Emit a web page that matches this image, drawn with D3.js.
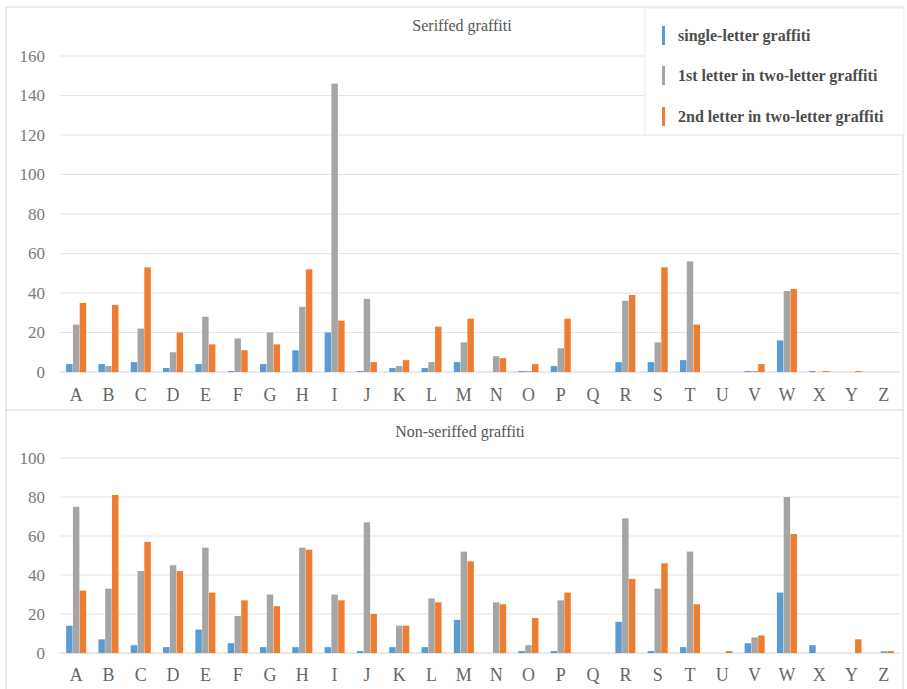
<!DOCTYPE html>
<html>
<head>
<meta charset="utf-8">
<script src="https://cdn.jsdelivr.net/npm/d3@7"></script>
<style>
  body { margin: 0; background: #fff; }
  svg { display: block; }
  text { font-family: "Liberation Serif", "Times New Roman", serif; }
</style>
</head>
<body>
<svg id="chart" width="907" height="689"></svg>
<script>
var letters = ['A','B','C','D','E','F','G','H','I','J','K','L','M','N','O','P','Q','R','S','T','U','V','W','X','Y','Z'];
var seriesNames = ['single-letter graffiti', '1st letter in two-letter graffiti', '2nd letter in two-letter graffiti'];
var colors = ['#5b9bd5', '#a5a5a5', '#ed7d31'];

// seriffed graffiti
var serifSingle = [4, 4, 5, 2, 4, 0.5, 4, 11, 20, 0.5, 2, 2, 5, 0, 0.5, 3, 0, 5, 5, 6, 0, 0.5, 16, 0.5, 0, 0];
var serifFirst  = [24, 3, 22, 10, 28, 17, 20, 33, 146, 37, 3, 5, 15, 8, 0.5, 12, 0, 36, 15, 56, 0, 0.5, 41, 0, 0, 0];
var serifSecond = [35, 34, 53, 20, 14, 11, 14, 52, 26, 5, 6, 23, 27, 7, 4, 27, 0, 39, 53, 24, 0, 4, 42, 0.5, 0.5, 0];
var serifTicks = [0, 20, 40, 60, 80, 100, 120, 140, 160];

// non-seriffed graffiti
var nonSingle = [14, 7, 4, 3, 12, 5, 3, 3, 3, 1, 3, 3, 17, 0, 1, 1, 0, 16, 1, 3, 0, 5, 31, 4, 0, 0];
var nonFirst  = [75, 33, 42, 45, 54, 19, 30, 54, 30, 67, 14, 28, 52, 26, 4, 27, 0, 69, 33, 52, 0, 8, 80, 0, 0, 1];
var nonSecond = [32, 81, 57, 42, 31, 27, 24, 53, 27, 20, 14, 26, 47, 25, 18, 31, 0, 38, 46, 25, 1, 9, 61, 0, 7, 1];
var nonTicks = [0, 20, 40, 60, 80, 100];

var svg = d3.select('#chart');

function drawPanel(opts) {
	var g = svg.append('g');

	g.append('rect')
	.attr('x', opts.frame[0]).attr('y', opts.frame[1])
	.attr('width', opts.frame[2]).attr('height', opts.frame[3])
	.attr('fill', '#fff')
	.attr('stroke', '#d9d9d9');

	var x0 = d3.scaleBand().domain(letters).range([60, 900]).paddingInner(0.38).paddingOuter(0.19);
	var x1 = d3.scaleBand().domain([0, 1, 2]).range([0, x0.bandwidth()]).paddingInner(0.05);
	var y = d3.scaleLinear().domain(opts.domain).range(opts.yRange);

	g.selectAll('.grid')
	.data(opts.ticks)
	.enter().append('line')
	.attr('class', 'grid')
	.attr('x1', 60).attr('x2', 900)
	.attr('y1', function(d) { return y(d); })
	.attr('y2', function(d) { return y(d); })
	.style('stroke', function(d) { return d === 0 ? '#d0d0d0' : '#e4e4e4'; });

	var yAxis = d3.axisLeft(y).tickValues(opts.ticks).tickSize(0).tickPadding(0);
	var ya = g.append('g').attr('transform', 'translate(45,0)').call(yAxis);
	ya.select('.domain').remove();
	ya.selectAll('text')
	.style('font-size', '17px')
	.style('fill', '#7a7a7a')
	.style('font-family', '"Liberation Serif", serif');

	var rows = letters.map(function(l, i) {
		return {letter: l, values: [opts.series[0][i], opts.series[1][i], opts.series[2][i]]};
	});

	var groups = g.selectAll('.group')
	.data(rows)
	.enter().append('g')
	.attr('class', 'group')
	.attr('transform', function(d) { return 'translate(' + x0(d.letter) + ',0)'; });

	groups.selectAll('rect')
	.data(function(d) { return d.values.map(function(v, k) { return {k: k, v: v}; }); })
	.enter().append('rect')
	.attr('x', function(d) { return x1(d.k); })
	.attr('width', x1.bandwidth())
	.attr('y', function(d) { return y(d.v); })
	.attr('height', function(d) { return y(0) - y(d.v); })
	.attr('fill', function(d) { return colors[d.k]; });

	var xAxis = d3.axisBottom(x0).tickSize(0).tickPadding(0);
	var xa = g.append('g').attr('transform', 'translate(0,' + opts.labelY + ')').call(xAxis);
	xa.select('.domain').remove();
	xa.selectAll('text')
	.attr('dy', 0)
	.style('font-size', '18px')
	.style('fill', '#666')
	.style('font-family', '"Liberation Serif", serif');

	g.append('text')
	.attr('x', opts.titleX).attr('y', opts.titleY)
	.attr('text-anchor', 'middle')
	.style('font-size', '16px')
	.style('fill', '#555')
	.text(opts.title);

	return g;
}

drawPanel({
	frame: [6, 7, 897, 403],
	domain: [0, 160], yRange: [372, 56], ticks: serifTicks,
	series: [serifSingle, serifFirst, serifSecond],
	labelY: 401, title: 'Seriffed graffiti', titleX: 462, titleY: 31
});

drawPanel({
	frame: [6, 410, 897, 290],
	domain: [0, 100], yRange: [653, 458], ticks: nonTicks,
	series: [nonSingle, nonFirst, nonSecond],
	labelY: 681, title: 'Non-seriffed graffiti', titleX: 460, titleY: 437
});

// legend
var legend = svg.append('g');
legend.append('rect')
.attr('x', 645).attr('y', 8).attr('width', 259).attr('height', 127)
.attr('fill', '#fff')
.attr('stroke', '#ececec');

var legendRows = [36, 76, 117];
var items = legend.selectAll('.item')
.data(seriesNames)
.enter().append('g')
.attr('class', 'item')
.attr('transform', function(d, i) { return 'translate(662,' + legendRows[i] + ')'; });

items.append('rect')
.attr('x', 0).attr('y', -10).attr('width', 3).attr('height', 19)
.attr('fill', function(d, i) { return colors[i]; });

items.append('text')
.attr('x', 16).attr('y', 5)
.style('font-size', '16px')
.style('font-weight', 'bold')
.style('fill', '#4d4d4d')
.text(function(d) { return d; });
</script>
</body>
</html>
